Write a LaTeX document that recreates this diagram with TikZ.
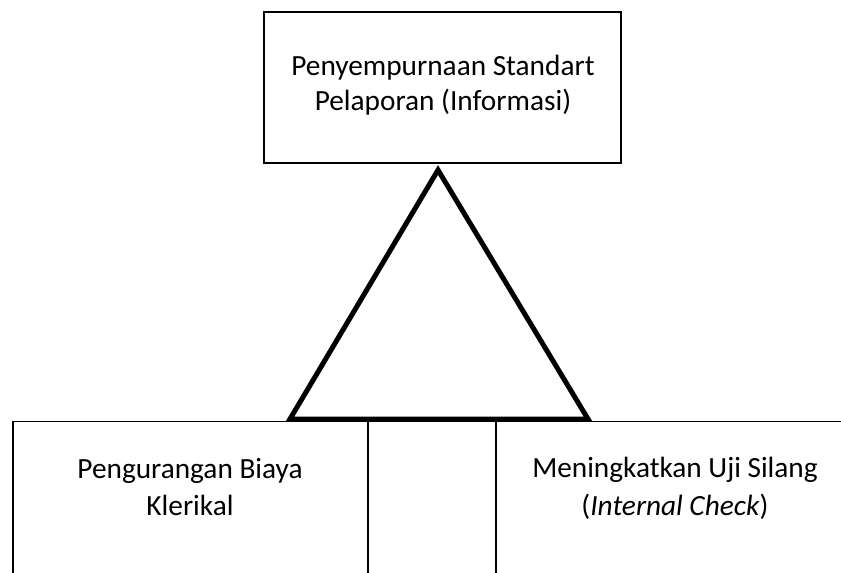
\documentclass[tikz,border=0pt]{standalone}
\usepackage{fontspec}
\setmainfont{Carlito}
\begin{document}
\begin{tikzpicture}[x=1pt,y=-1pt,
  txt/.style={anchor=base,inner sep=0pt,font=\fontsize{29.3}{35}\selectfont},
  topbox/.style={draw,line width=2pt,inner sep=0pt},
  lowbox/.style={draw,line width=1.8pt,inner sep=0pt}]
\useasboundingbox (0,0) rectangle (841,573);
% top box
\node[topbox,minimum width=357pt,minimum height=151pt] (top) at (442.5,87.5) {};
\node[txt] (t1) at (443,75) {Penyempurnaan Standart};
\node[txt] (t2) at (443,110) {Pelaporan (Informasi)};
% bottom boxes (cut by the page edge)
\node[lowbox,minimum width=355pt,minimum height=220pt] (left) at (190.5,531.5) {};
\node[lowbox,minimum width=128pt,minimum height=220pt] (mid) at (432,531.5) {};
\node[lowbox,minimum width=400pt,minimum height=220pt] (right) at (696,531.5) {};
\node[txt] (l1) at (190,478) {Pengurangan Biaya};
\node[txt] (l2) at (190,515) {Klerikal};
\node[txt] (r1) at (675,477) {Meningkatkan Uji Silang};
\node[txt] (r2) at (675,515) {(\textit{Internal Check})};
% triangle
\coordinate (apex) at (438,170);
\coordinate (bl) at (290,419);
\coordinate (br) at (588,419);
\draw[line width=5pt,line join=miter] (apex) -- (bl) -- (br) -- cycle;
\end{tikzpicture}
\end{document}
